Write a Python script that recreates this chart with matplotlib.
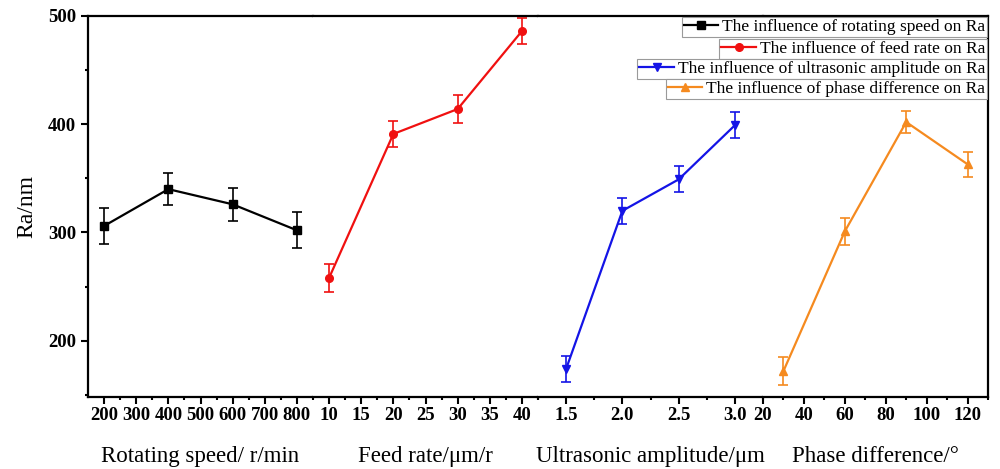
import matplotlib
matplotlib.use("Agg")
import matplotlib.pyplot as plt
from matplotlib.ticker import FixedLocator, MultipleLocator

plt.rcParams['font.family'] = ['Liberation Serif', 'DejaVu Serif']

# data
speed = [200, 400, 600, 800]
speed_ra = [306, 340, 326, 302]
speed_err = [17, 14.5, 15.5, 16.5]

feed = [10, 20, 30, 40]
feed_ra = [258, 391, 414, 486]
feed_err = [13, 12, 13, 12]

amp = [1.5, 2.0, 2.5, 3.0]
amp_ra = [174, 320, 349, 399]
amp_err = [12, 12, 12, 12]

phase = [30, 60, 90, 120]
phase_ra = [172, 301, 402, 363]
phase_err = [12.5, 12.7, 10.5, 11.5]

xlabels = ["Rotating speed/ r/min", "Feed rate/\u03bcm/r",
           "Ultrasonic amplitude/\u03bcm", "Phase difference/\u00b0"]
legend_text = ["The influence of rotating speed on Ra",
               "The influence of feed rate on Ra",
               "The influence of ultrasonic amplitude on Ra",
               "The influence of phase difference on Ra"]
colors = ["black", "#F01010", "#1414E6", "#F58A1F"]
markers = ["s", "o", "v", "^"]

xs = [speed, feed, amp, phase]
ys = [speed_ra, feed_ra, amp_ra, phase_ra]
errs = [speed_err, feed_err, amp_err, phase_err]

xlims = [(150, 850), (7.5, 42.5), (1.25, 3.25), (20, 130)]
majors = [[200, 300, 400, 500, 600, 700, 800],
          [10, 15, 20, 25, 30, 35, 40],
          [1.5, 2.0, 2.5, 3.0],
          [20, 40, 60, 80, 100, 120]]
tick_labels = [["200", "300", "400", "500", "600", "700", "800"],
               ["10", "15", "20", "25", "30", "35", "40"],
               ["1.5", "2.0", "2.5", "3.0"],
               ["20", "40", "60", "80", "100", "120"]]
minors = [[250, 350, 450, 550, 650, 750, 850],
          [12.5, 17.5, 22.5, 27.5, 32.5, 37.5, 42.5],
          [1.25, 1.75, 2.25, 2.75, 3.25],
          [30, 50, 70, 90, 110, 130]]

fig, axes = plt.subplots(1, 4, sharey=True, figsize=(10, 4.69), dpi=100)
fig.subplots_adjust(left=0.088, right=0.988, bottom=0.1535, top=0.966, wspace=0)

handles = []
for i, ax in enumerate(axes):
    eb = ax.errorbar(xs[i], ys[i], yerr=errs[i], color=colors[i], marker=markers[i],
                     markersize=5.5, linewidth=1.6, elinewidth=1.2, capsize=3.3,
                     capthick=1.2)
    handles.append(eb.lines[0])
    ax.set_xlim(*xlims[i])
    ax.xaxis.set_major_locator(FixedLocator(majors[i]))
    ax.set_xticklabels(tick_labels[i], fontweight='bold', fontsize=13.5)
    ax.xaxis.set_minor_locator(FixedLocator(minors[i]))
    ax.tick_params(axis='x', which='major', direction='out', length=5, width=1.5, pad=2)
    ax.tick_params(axis='x', which='minor', direction='out', length=2.5, width=1.5)
    ax.set_xlabel(xlabels[i], fontsize=16.5, labelpad=16)
    for s in ax.spines.values():
        s.set_linewidth(1.6)
    if i > 0:
        ax.spines['left'].set_visible(False)
        ax.tick_params(axis='y', which='both', left=False)
    if i < 3:
        ax.spines['right'].set_visible(False)

ax0 = axes[0]
ax0.set_ylim(148, 500)
ax0.yaxis.set_major_locator(MultipleLocator(100))
ax0.yaxis.set_minor_locator(MultipleLocator(50))
ax0.tick_params(axis='y', which='major', direction='out', length=5, width=1.5)
ax0.tick_params(axis='y', which='minor', direction='out', length=2.5, width=1.5)
for t in ax0.get_yticklabels():
    t.set_fontweight('bold')
    t.set_fontsize(13.5)
ax0.set_ylabel("Ra/nm", fontsize=17, labelpad=8)

# one boxed legend per series, stacked at the top right
tops = [17, 38.5, 58.5, 79]
for i in range(4):
    leg = fig.legend(handles=[handles[i]], labels=[legend_text[i]], loc='upper right',
                     bbox_to_anchor=(0.987, 1 - tops[i] / 469), fontsize=12.5,
                     frameon=True, fancybox=False, borderpad=0.12, handlelength=2.0,
                     handletextpad=0.2, borderaxespad=0, framealpha=1)
    leg.get_frame().set_edgecolor('#9a9a9a')
    leg.get_frame().set_linewidth(0.8)

fig.savefig("out.png", dpi=100)
